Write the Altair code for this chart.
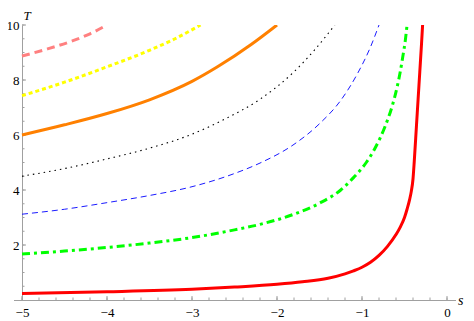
import altair as alt
import pandas as pd

# ---- data ----
red_s = [-5.0, -4.0, -3.0, -2.5, -2.0, -1.7, -1.4, -1.2, -1.1, -1.0, -0.9, -0.8, -0.7, -0.6, -0.55, -0.5, -0.47, -0.44, -0.42, -0.40, -0.385, -0.36, -0.34, -0.32, -0.30, -0.287]
red_T = [0.24, 0.30, 0.39, 0.47, 0.57, 0.66, 0.79, 0.95, 1.06, 1.19, 1.37, 1.62, 1.95, 2.38, 2.65, 3.0, 3.3, 3.65, 3.95, 4.4, 5.05, 6.3, 7.3, 8.3, 9.3, 10.0]

green_s = [-5.0, -4.5, -4.0, -3.5, -3.0, -2.5, -2.2, -1.8, -1.5, -1.25, -1.1, -0.95, -0.85, -0.73, -0.65, -0.59, -0.55, -0.52, -0.49, -0.47]
green_T = [1.67, 1.78, 1.91, 2.07, 2.27, 2.55, 2.75, 3.12, 3.52, 4.0, 4.45, 5.0, 5.5, 6.3, 7.0, 7.7, 8.3, 8.85, 9.45, 10.0]

blue_s = [-5.0, -4.5, -4.0, -3.5, -3.0, -2.5, -2.2, -1.8, -1.5, -1.25, -1.05, -0.9, -0.8]
blue_T = [3.12, 3.3, 3.54, 3.8, 4.12, 4.6, 4.98, 5.66, 6.41, 7.26, 8.25, 9.2, 10.0]

black_s = [-5.0, -4.5, -4.0, -3.5, -3.0, -2.6, -2.2, -1.8, -1.57, -1.32]
black_T = [4.5, 4.78, 5.13, 5.52, 6.03, 6.6, 7.3, 8.3, 9.05, 10.0]

orange_s = [-5.0, -4.5, -4.0, -3.5, -3.0, -2.7, -2.3, -2.0]
orange_T = [6.0, 6.37, 6.78, 7.28, 7.95, 8.48, 9.3, 10.0]

yellow_s = [-5.0, -4.5, -4.0, -3.5, -3.2, -2.9]
yellow_T = [7.43, 7.92, 8.48, 9.08, 9.5, 10.0]

pink_s = [-5.0, -4.7, -4.4, -4.2, -4.0]
pink_T = [8.87, 9.13, 9.43, 9.68, 10.0]

x_major = [-5, -4, -3, -2, -1, 0]
x_minor = [round(-5 + 0.2 * k, 1) for k in range(26)]
y_major = [2, 4, 6, 8, 10]
y_minor = [0.5 * k for k in range(1, 21)]

# ---- layout ----
W, H = 442, 275
AX = "#a0a0a0"
SERIF = "Liberation Serif, Times New Roman, Times, serif"

xs = alt.Scale(domain=[-5.1, 0.1], nice=False, zero=False)
ys = alt.Scale(domain=[0, 10], nice=False, zero=False)

ax_x_main = alt.Axis(orient="bottom", values=x_major, ticks=False, grid=False, domain=True,
                     domainColor=AX, domainWidth=1, labelFont=SERIF, labelFontSize=13,
                     labelColor="black", labelPadding=6, labelFlush=False,
                     title="s", titleFont=SERIF, titleFontSize=14, titleFontStyle="italic",
                     titleFontWeight="normal", titleColor="black", titleX=444, titleY=4,
                     titleAlign="left", titleBaseline="alphabetic")
ax_y_main = alt.Axis(orient="left", offset=-8.5, values=y_major, ticks=False, grid=False,
                     domain=True, domainColor=AX, domainWidth=1, labelFont=SERIF,
                     labelFontSize=13, labelColor="black", labelPadding=3, labelFlush=False,
                     title="T", titleFont=SERIF, titleFontSize=13, titleFontStyle="italic",
                     titleFontWeight="normal", titleColor="black", titleAngle=0,
                     titleX=1, titleY=-6, titleAlign="left", titleBaseline="alphabetic")

specs = [
    # name, s, T, color, width, dash
    ("red", red_s, red_T, "#ff0000", 3, None),
    ("green", green_s, green_T, "#00ff00", 3, [8, 4, 3, 4]),
    ("blue", blue_s, blue_T, "#0000ff", 0.9, [6, 4]),
    ("black", black_s, black_T, "#000000", 1.1, [1.5, 4]),
    ("orange", orange_s, orange_T, "#ff8000", 3, None),
    ("yellow", yellow_s, yellow_T, "#ffff00", 3, [4, 3]),
    ("pink", pink_s, pink_T, "#ff8080", 3, [8, 5]),
]

# tick marks pointing into the plot (x ticks up from T=0, y ticks right from s=-5)
tick_len_major_T = 4 / 27.5
tick_len_minor_T = 2.5 / 27.5
tick_len_major_s = 4 / 85.0
tick_len_minor_s = 2.5 / 85.0


def xticks(vals, ln):
    df = pd.DataFrame({"s": vals, "t0": [0.0] * len(vals), "t1": [ln] * len(vals)})
    return alt.Chart(df).mark_rule(color=AX, strokeWidth=1).encode(
        x=alt.X("s:Q", scale=xs, axis=None),
        y=alt.Y("t0:Q", scale=ys, axis=None),
        y2="t1:Q",
    )


def yticks(vals, ln):
    df = pd.DataFrame({"T": vals, "s0": [-5.0] * len(vals), "s1": [-5.0 + ln] * len(vals)})
    return alt.Chart(df).mark_rule(color=AX, strokeWidth=1).encode(
        y=alt.Y("T:Q", scale=ys, axis=None),
        x=alt.X("s0:Q", scale=xs, axis=None),
        x2="s1:Q",
    )


layers = []
first = True
for name, s, T, col, w, dash in specs:
    df = pd.DataFrame({"s": s, "T": T, "i": list(range(len(s)))})
    mk = dict(color=col, strokeWidth=w, interpolate="monotone", clip=True)
    if dash is not None:
        mk["strokeDash"] = dash
    base = alt.Chart(df).mark_line(**mk)
    if first:
        enc = dict(x=alt.X("s:Q", scale=xs, axis=ax_x_main),
                   y=alt.Y("T:Q", scale=ys, axis=ax_y_main))
        first = False
    else:
        enc = dict(x=alt.X("s:Q", scale=xs, axis=None),
                   y=alt.Y("T:Q", scale=ys, axis=None))
    layers.append(base.encode(order="i:Q", **enc))

all_layers = [layers[0],
              xticks(x_minor, tick_len_minor_T), xticks(x_major, tick_len_major_T),
              yticks(y_minor, tick_len_minor_s), yticks(y_major, tick_len_major_s)] + layers[1:]

chart = alt.layer(*all_layers).resolve_axis(x="independent", y="independent").properties(
    width=W, height=H,
    autosize=alt.AutoSizeParams(type="none"),
    padding={"left": 5.5, "top": 17, "right": 10.5, "bottom": 21},
).configure_view(strokeWidth=0)

chart.save("out.html", embed_options={"renderer": "svg", "actions": False})
